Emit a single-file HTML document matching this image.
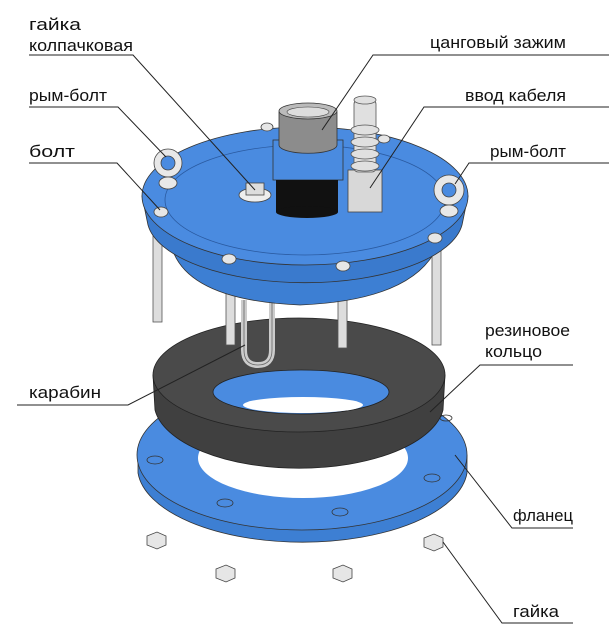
<!DOCTYPE html>
<html><head><meta charset="utf-8"><style>
html,body{margin:0;padding:0;background:#fff}
svg{display:block}
text{font-family:"Liberation Sans","DejaVu Sans",sans-serif;font-size:17px;fill:#111}
</style></head><body>
<svg width="609" height="639" viewBox="0 0 609 639" xmlns="http://www.w3.org/2000/svg">
<!-- bottom flange -->
<path d="M138 455 L138 473 A165 75 0 0 0 467 473 L467 455 Z" fill="#3d7fd3" stroke="#333" stroke-width="0.8"/>
<ellipse cx="302" cy="455" rx="165" ry="75" fill="#4a8be0" stroke="#333" stroke-width="0.8"/>
<ellipse cx="303" cy="458" rx="105" ry="40" fill="#fff"/>
<g fill="none" stroke="#333" stroke-width="0.8">
<ellipse cx="155" cy="460" rx="8" ry="4"/><ellipse cx="225" cy="503" rx="8" ry="4"/>
<ellipse cx="340" cy="512" rx="8" ry="4"/><ellipse cx="432" cy="478" rx="8" ry="4"/>
<ellipse cx="446" cy="418" rx="6" ry="3"/>
</g>
<!-- rubber ring -->
<path d="M153 375 L155 410 A145 66 0 0 0 443 410 L445 375 Z" fill="#404040" stroke="#222" stroke-width="0.8"/>
<ellipse cx="299" cy="375" rx="146" ry="57" fill="#4a4a4a" stroke="#222" stroke-width="0.8"/>
<ellipse cx="301" cy="392" rx="88" ry="22" fill="#4a8be0" stroke="#222" stroke-width="0.8"/>
<ellipse cx="303" cy="405" rx="60" ry="8" fill="#fff"/>
<!-- bolts -->
<g fill="#ddd" stroke="#555" stroke-width="0.8">
<rect x="153" y="210" width="9" height="112"/>
<rect x="226" y="265" width="9" height="80"/>
<rect x="338" y="270" width="9" height="78"/>
<rect x="432" y="225" width="9" height="120"/>
</g>
<!-- carabiner -->
<path d="M244 300 L244 350 Q244 365 258 365 Q272 365 272 350 L272 300" fill="none" stroke="#ccc" stroke-width="6"/>
<path d="M244 300 L244 350 Q244 365 258 365 Q272 365 272 350 L272 300" fill="none" stroke="#666" stroke-width="0.8"/>
<!-- cover skirt -->
<path d="M170 240 Q180 300 300 305 Q420 300 440 240 Z" fill="#3d7fd3" stroke="#333" stroke-width="0.8"/>
<path d="M142 196 L148 225 A158 65 0 0 0 462 225 L468 196 Z" fill="#3a7acd" stroke="#333" stroke-width="0.8"/>
<ellipse cx="305" cy="196" rx="163" ry="69" fill="#4a8be0" stroke="#333" stroke-width="0.8"/>
<ellipse cx="305" cy="200" rx="140" ry="55" fill="none" stroke="#2a5aa0" stroke-width="0.8"/>
<!-- small bolt heads -->
<g fill="#e6e6e6" stroke="#444" stroke-width="0.8">
<ellipse cx="161" cy="212" rx="7" ry="5"/><ellipse cx="229" cy="259" rx="7" ry="5"/>
<ellipse cx="343" cy="266" rx="7" ry="5"/><ellipse cx="435" cy="238" rx="7" ry="5"/>
<ellipse cx="267" cy="127" rx="6" ry="4"/><ellipse cx="384" cy="139" rx="6" ry="4"/>
</g>
<!-- cap nut -->
<ellipse cx="255" cy="195" rx="16" ry="7" fill="#eee" stroke="#444" stroke-width="0.8"/>
<rect x="246" y="183" width="18" height="12" fill="#ddd" stroke="#444" stroke-width="0.8"/>
<!-- collet clamp -->
<rect x="273" y="140" width="70" height="40" fill="#4a8be0" stroke="#333" stroke-width="0.8"/>
<rect x="276" y="180" width="62" height="32" fill="#111"/>
<ellipse cx="307" cy="212" rx="31" ry="6" fill="#111"/>
<path d="M279 112 L279 145 A28 8 0 0 0 337 145 L337 112 Z" fill="#8c8c8c" stroke="#333" stroke-width="0.8"/>
<ellipse cx="308" cy="111" rx="29" ry="8" fill="#bbb" stroke="#333" stroke-width="0.8"/>
<ellipse cx="308" cy="112" rx="21" ry="5" fill="#ddd" stroke="#444" stroke-width="0.6"/>
<!-- cable gland -->
<rect x="348" y="170" width="34" height="42" fill="#d8d8d8" stroke="#444" stroke-width="0.8"/>
<g fill="#e0e0e0" stroke="#555" stroke-width="0.8">
<rect x="354" y="100" width="22" height="72" rx="4"/>
<ellipse cx="365" cy="130" rx="14" ry="5"/><ellipse cx="365" cy="142" rx="14" ry="5"/>
<ellipse cx="365" cy="154" rx="14" ry="5"/><ellipse cx="365" cy="166" rx="14" ry="5"/>
<ellipse cx="365" cy="100" rx="11" ry="4"/>
</g>
<!-- eye bolts -->
<g fill="#e8e8e8" stroke="#444" stroke-width="0.8">
<circle cx="168" cy="163" r="14"/><circle cx="168" cy="163" r="7" fill="#4a8be0"/>
<ellipse cx="168" cy="183" rx="9" ry="6"/>
<circle cx="449" cy="190" r="15"/><circle cx="449" cy="190" r="7" fill="#4a8be0"/>
<ellipse cx="449" cy="211" rx="9" ry="6"/>
</g>
<!-- nuts -->
<g fill="#e6e6e6" stroke="#444" stroke-width="0.8">
<polygon points="147,536 157,532 166,536 166,545 157,549 147,545"/>
<polygon points="216,569 226,565 235,569 235,578 226,582 216,578"/>
<polygon points="333,569 343,565 352,569 352,578 343,582 333,578"/>
<polygon points="424,538 434,534 443,538 443,547 434,551 424,547"/>
</g>
<!-- leader lines -->
<g fill="none" stroke="#222" stroke-width="1">
<polyline points="29,55 133,55 255,190"/>
<polyline points="609,55 373,55 322,130"/>
<polyline points="29,107 118,107 166,157"/>
<polyline points="609,107 424,107 370,188"/>
<polyline points="29,163 117,163 160,210"/>
<polyline points="609,163 469,163 455,184"/>
<polyline points="573,365 480,365 430,412"/>
<polyline points="17,405 128,405 245,345"/>
<polyline points="573,528 512,528 455,455"/>
<polyline points="573,623 502,623 443,542"/>
</g>
<!-- labels -->
<text x="29" y="30" textLength="52" lengthAdjust="spacingAndGlyphs">гайка</text>
<text x="29" y="51" textLength="104" lengthAdjust="spacingAndGlyphs">колпачковая</text>
<text x="430" y="48" textLength="136" lengthAdjust="spacingAndGlyphs">цанговый зажим</text>
<text x="29" y="101" textLength="78" lengthAdjust="spacingAndGlyphs">рым-болт</text>
<text x="465" y="101" textLength="101" lengthAdjust="spacingAndGlyphs">ввод кабеля</text>
<text x="29" y="157" textLength="46" lengthAdjust="spacingAndGlyphs">болт</text>
<text x="490" y="157" textLength="76" lengthAdjust="spacingAndGlyphs">рым-болт</text>
<text x="485" y="336" textLength="85" lengthAdjust="spacingAndGlyphs">резиновое</text>
<text x="485" y="357" textLength="57" lengthAdjust="spacingAndGlyphs">кольцо</text>
<text x="29" y="398" textLength="72" lengthAdjust="spacingAndGlyphs">карабин</text>
<text x="513" y="521" textLength="60" lengthAdjust="spacingAndGlyphs">фланец</text>
<text x="513" y="617" textLength="46" lengthAdjust="spacingAndGlyphs">гайка</text>
</svg>
</body></html>
